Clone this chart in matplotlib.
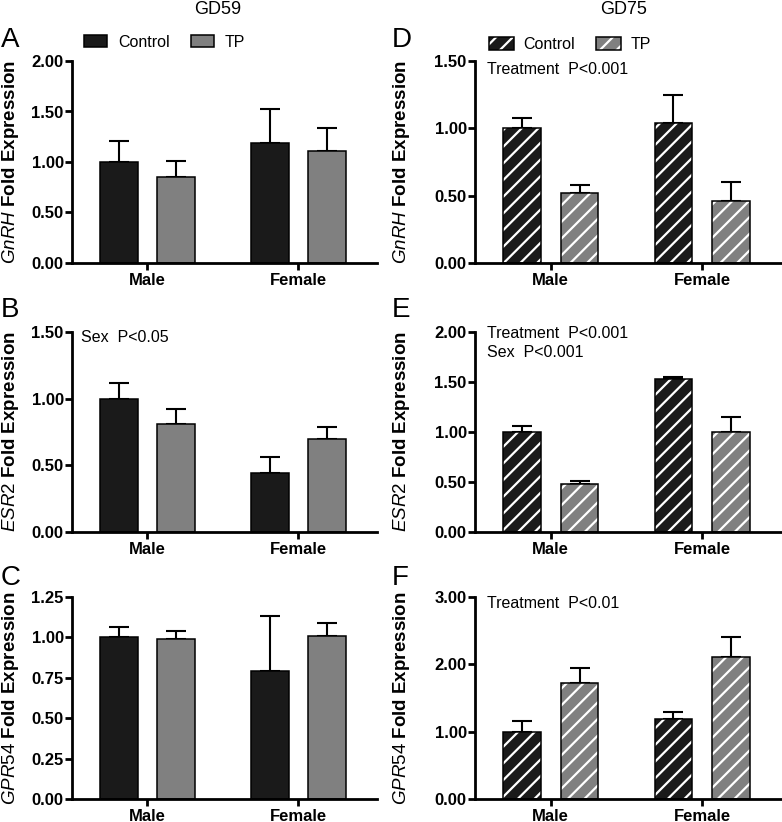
import matplotlib
matplotlib.use("Agg")
import matplotlib.pyplot as plt
from matplotlib.patches import Patch
from matplotlib.legend_handler import HandlerTuple

# data (mean, upper SEM)
categories = ["Male", "Female"]

gnrh_gd59_ctrl = [1.00, 1.19]
gnrh_gd59_ctrl_err = [0.21, 0.33]
gnrh_gd59_tp = [0.85, 1.11]
gnrh_gd59_tp_err = [0.16, 0.23]

esr2_gd59_ctrl = [1.00, 0.44]
esr2_gd59_ctrl_err = [0.12, 0.12]
esr2_gd59_tp = [0.81, 0.70]
esr2_gd59_tp_err = [0.11, 0.09]

gpr54_gd59_ctrl = [1.00, 0.79]
gpr54_gd59_ctrl_err = [0.065, 0.345]
gpr54_gd59_tp = [0.99, 1.01]
gpr54_gd59_tp_err = [0.05, 0.08]

gnrh_gd75_ctrl = [1.00, 1.04]
gnrh_gd75_ctrl_err = [0.08, 0.21]
gnrh_gd75_tp = [0.52, 0.46]
gnrh_gd75_tp_err = [0.06, 0.14]

esr2_gd75_ctrl = [1.00, 1.53]
esr2_gd75_ctrl_err = [0.06, 0.02]
esr2_gd75_tp = [0.48, 1.00]
esr2_gd75_tp_err = [0.035, 0.15]

gpr54_gd75_ctrl = [1.00, 1.19]
gpr54_gd75_ctrl_err = [0.16, 0.10]
gpr54_gd75_tp = [1.73, 2.11]
gpr54_gd75_tp_err = [0.21, 0.29]

CTRL = "#1a1a1a"
TP = "#808080"
FONT = "Liberation Sans"

plt.rcParams["font.family"] = FONT
plt.rcParams["mathtext.fontset"] = "custom"
plt.rcParams["mathtext.it"] = FONT + ":italic"
plt.rcParams["mathtext.rm"] = FONT
plt.rcParams["hatch.linewidth"] = 1.6

fig = plt.figure(figsize=(7.82, 8.22), dpi=100)
W, H = 782, 822


def axes_px(x0, y_top, x1, y_bot):
    return fig.add_axes([x0 / W, 1 - y_bot / H, (x1 - x0) / W, (y_bot - y_top) / H])


def draw_panel(ax, ctrl, ctrl_err, tp, tp_err, ymax, ystep, gene, hatched, lab_x):
    x = list(range(len(categories)))
    off, bw = 0.19, 0.25
    for vals, errs, col, sgn in [(ctrl, ctrl_err, CTRL, -1), (tp, tp_err, TP, 1)]:
        xs = [i + sgn * off for i in x]
        if hatched:
            ax.bar(xs, vals, bw, color=col, edgecolor="white", hatch="//", linewidth=0, zorder=2)
            ax.bar(xs, vals, bw, fill=False, edgecolor="black", linewidth=1.1, zorder=3)
        else:
            ax.bar(xs, vals, bw, color=col, edgecolor="black", linewidth=1.1, zorder=2)
        ax.errorbar(xs, vals, yerr=[[0] * len(vals), errs], fmt="none", ecolor="black",
                    elinewidth=1.5, capsize=7.5, capthick=1.5, zorder=1)
    ax.set_xlim(-0.5, 1.52)
    ax.set_ylim(0, ymax)
    n = int(round(ymax / ystep))
    ax.set_yticks([i * ystep for i in range(n + 1)])
    ax.set_yticklabels(["%.2f" % (i * ystep) for i in range(n + 1)])
    ax.set_xticks(x)
    ax.set_xticklabels(categories)
    for s in ["top", "right"]:
        ax.spines[s].set_visible(False)
    for s in ["left", "bottom"]:
        ax.spines[s].set_linewidth(2)
    ax.tick_params(axis="y", length=5, width=2, pad=1, labelsize=12)
    ax.tick_params(axis="x", length=5, width=2, pad=2.5, labelsize=12)
    for t in ax.get_xticklabels() + ax.get_yticklabels():
        t.set_fontweight("bold")
    ax.set_ylabel(r"$\it{" + gene + "}$ Fold Expression", fontsize=13.5, fontweight="bold")
    ax.yaxis.set_label_coords(lab_x, 0.5)


left = (72, 377)
right = (475, 781)
rows = [(61, 263), (332, 532), (597, 799)]

axA = axes_px(left[0], rows[0][0], left[1], rows[0][1])
axB = axes_px(left[0], rows[1][0], left[1], rows[1][1])
axC = axes_px(left[0], rows[2][0], left[1], rows[2][1])
axD = axes_px(right[0], rows[0][0], right[1], rows[0][1])
axE = axes_px(right[0], rows[1][0], right[1], rows[1][1])
axF = axes_px(right[0], rows[2][0], right[1], rows[2][1])

draw_panel(axA, gnrh_gd59_ctrl, gnrh_gd59_ctrl_err, gnrh_gd59_tp, gnrh_gd59_tp_err, 2.0, 0.5, "GnRH", False, -0.167)
draw_panel(axB, esr2_gd59_ctrl, esr2_gd59_ctrl_err, esr2_gd59_tp, esr2_gd59_tp_err, 1.5, 0.5, "ESR2", False, -0.167)
draw_panel(axC, gpr54_gd59_ctrl, gpr54_gd59_ctrl_err, gpr54_gd59_tp, gpr54_gd59_tp_err, 1.25, 0.25, "GPR54", False, -0.167)
draw_panel(axD, gnrh_gd75_ctrl, gnrh_gd75_ctrl_err, gnrh_gd75_tp, gnrh_gd75_tp_err, 1.5, 0.5, "GnRH", True, -0.2075)
draw_panel(axE, esr2_gd75_ctrl, esr2_gd75_ctrl_err, esr2_gd75_tp, esr2_gd75_tp_err, 2.0, 0.5, "ESR2", True, -0.2075)
draw_panel(axF, gpr54_gd75_ctrl, gpr54_gd75_ctrl_err, gpr54_gd75_tp, gpr54_gd75_tp_err, 3.0, 1.0, "GPR54", True, -0.2075)

# legends
h_plain = [Patch(facecolor=CTRL, edgecolor="black", linewidth=1.1),
           Patch(facecolor=TP, edgecolor="black", linewidth=1.1)]
axA.legend(h_plain, ["Control", "TP"], ncol=2, loc="center left", bbox_to_anchor=(0.039, 1.094),
           frameon=False, fontsize=11.5, borderpad=0, borderaxespad=0, handlelength=1.45,
           handleheight=0.7, handletextpad=0.7, columnspacing=1.3)

h_hatch = [(Patch(facecolor=c, edgecolor="white", hatch="//", linewidth=0),
            Patch(fill=False, edgecolor="black", linewidth=1.1)) for c in (CTRL, TP)]
axD.legend(h_hatch, ["Control", "TP"], ncol=2, loc="center left", bbox_to_anchor=(0.046, 1.081),
           frameon=False, fontsize=11.5, borderpad=0, borderaxespad=0, handlelength=1.55,
           handleheight=0.8, handletextpad=0.6, columnspacing=1.3,
           handler_map={tuple: HandlerTuple(ndivide=1)})

# statistics notes
axB.text(0.03, 0.975, "Sex  P<0.05", transform=axB.transAxes, fontsize=11.5, va="center")
axD.text(0.039, 0.956, "Treatment  P<0.001", transform=axD.transAxes, fontsize=11.5, va="center")
axE.text(0.039, 0.99, "Treatment  P<0.001", transform=axE.transAxes, fontsize=11.5, va="center")
axE.text(0.039, 0.8975, "Sex  P<0.001", transform=axE.transAxes, fontsize=11.5, va="center")
axF.text(0.039, 0.97, "Treatment  P<0.01", transform=axF.transAxes, fontsize=11.5, va="center")

# column titles and panel letters
fig.text(218 / W, 1 - 9 / H, "GD59", fontsize=13, ha="center", va="center")
fig.text(624 / W, 1 - 9 / H, "GD75", fontsize=13, ha="center", va="center")
for letter, xp, yb in [("A", 1, 47), ("B", 1, 317), ("C", 1, 585),
                       ("D", 392, 47), ("E", 392, 317), ("F", 392, 585)]:
    fig.text(xp / W, 1 - yb / H, letter, fontsize=20, ha="left", va="baseline")

fig.savefig("out.png", dpi=100)
